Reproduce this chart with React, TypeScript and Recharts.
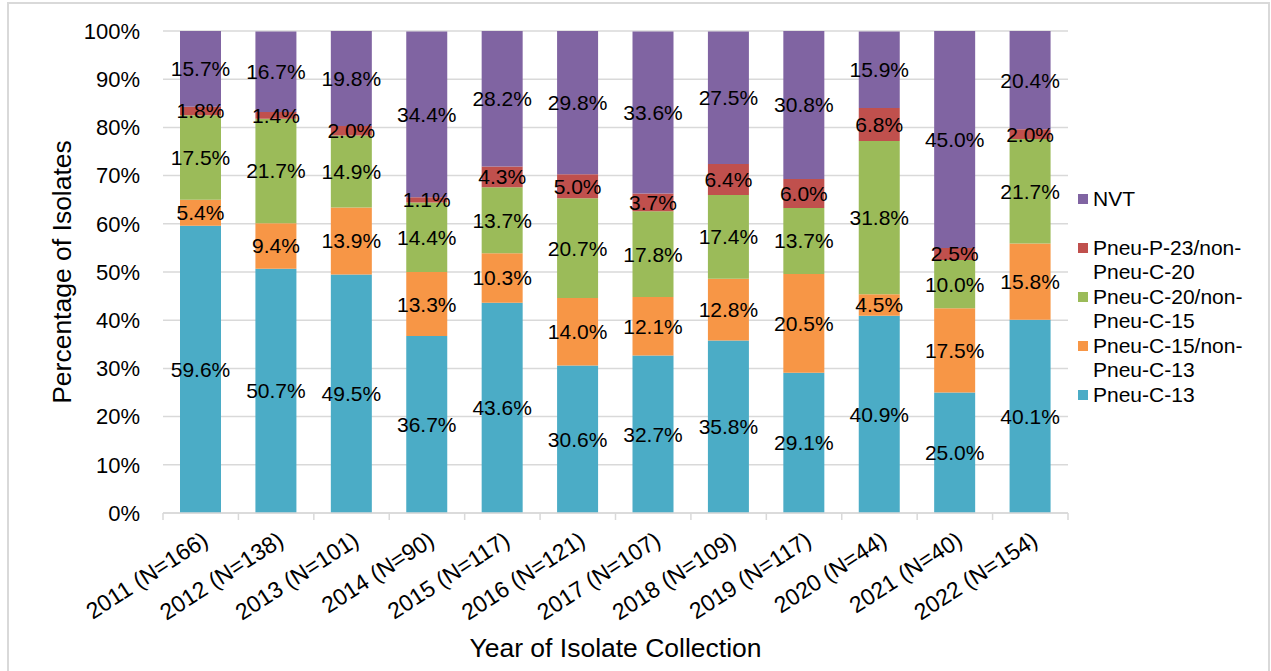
import { BarChart, Bar, XAxis, YAxis, CartesianGrid, LabelList, Legend, Label } from 'recharts'

const YEARS = [
  '2011 (N=166)',
  '2012 (N=138)',
  '2013 (N=101)',
  '2014 (N=90)',
  '2015 (N=117)',
  '2016 (N=121)',
  '2017 (N=107)',
  '2018 (N=109)',
  '2019 (N=117)',
  '2020 (N=44)',
  '2021 (N=40)',
  '2022 (N=154)',
]

// stacked bottom -> top
const PCV13 = [59.6, 50.7, 49.5, 36.7, 43.6, 30.6, 32.7, 35.8, 29.1, 40.9, 25.0, 40.1]
const PCV15 = [5.4, 9.4, 13.9, 13.3, 10.3, 14.0, 12.1, 12.8, 20.5, 4.5, 17.5, 15.8]
const PCV20 = [17.5, 21.7, 14.9, 14.4, 13.7, 20.7, 17.8, 17.4, 13.7, 31.8, 10.0, 21.7]
const PPV23 = [1.8, 1.4, 2.0, 1.1, 4.3, 5.0, 3.7, 6.4, 6.0, 6.8, 2.5, 2.0]
const NVT = [15.7, 16.7, 19.8, 34.4, 28.2, 29.8, 33.6, 27.5, 30.8, 15.9, 45.0, 20.4]

const Y_TICKS = [0, 10, 20, 30, 40, 50, 60, 70, 80, 90, 100]

const SERIES = [
  { key: 'pcv13', name: 'Pneu-C-13', color: '#4BACC6' },
  { key: 'pcv15', name: 'Pneu-C-15/non-Pneu-C-13', color: '#F79646' },
  { key: 'pcv20', name: 'Pneu-C-20/non-Pneu-C-15', color: '#9BBB59' },
  { key: 'ppv23', name: 'Pneu-P-23/non-Pneu-C-20', color: '#C0504D' },
  { key: 'nvt', name: 'NVT', color: '#8064A2' },
]

const data = YEARS.map((year, i) => ({
  year,
  pcv13: PCV13[i],
  pcv15: PCV15[i],
  pcv20: PCV20[i],
  ppv23: PPV23[i],
  nvt: NVT[i],
}))

const FONT = '"Liberation Sans", Arial, sans-serif'
const GRID = '#d9d9d9'

function YearTick(props: any) {
  const { x, y, payload, index, visibleTicksCount } = props
  const half = payload?.offset ?? 904 / 24
  const tx = x + 9
  const ty = y + 31
  return (
    <g>
      <line x1={x - half} x2={x - half} y1={y} y2={y + 7} stroke={GRID} strokeWidth={1.5} />
      {index === visibleTicksCount - 1 && (
        <line x1={x + half} x2={x + half} y1={y} y2={y + 7} stroke={GRID} strokeWidth={1.5} />
      )}
      <text x={tx} y={ty} textAnchor="end" fontSize={23} fill="#000" transform={`rotate(-33, ${tx}, ${ty})`}>
        {payload.value}
      </text>
    </g>
  )
}

function LegendBox() {
  const items = [...SERIES].reverse()
  return (
    <div style={{ fontFamily: FONT, fontSize: 21, color: '#000' }}>
      {items.map((s) => {
        const parts = s.name.split('/non-')
        const lines = parts.length > 1 ? [parts[0] + '/non-', parts[1]] : [s.name]
        return (
          <div key={s.key} style={{ position: 'relative', height: 49, lineHeight: '24px' }}>
            <div style={{ position: 'absolute', left: 0, top: 7, width: 10, height: 10, background: s.color }} />
            <div style={{ marginLeft: 15, whiteSpace: 'nowrap' }}>
              {lines.map((l) => (
                <div key={l}>{l}</div>
              ))}
            </div>
          </div>
        )
      })}
    </div>
  )
}

export default function App() {
  return (
    <div
      style={{
        position: 'absolute',
        left: 0,
        top: 0,
        width: 1271,
        height: 671,
        overflow: 'hidden',
        background: '#fff',
        fontFamily: FONT,
      }}
    >
      <div
        style={{
          position: 'absolute',
          left: 7,
          top: 2,
          width: 1263,
          height: 700,
          border: `2px solid ${GRID}`,
          boxSizing: 'border-box',
        }}
      />
      <BarChart
        width={1271}
        height={671}
        data={data}
        margin={{ top: 31, right: 203, left: 83, bottom: 0 }}
        barSize={41}
        style={{ position: 'absolute', left: 0, top: 0 }}
      >
        <CartesianGrid vertical={false} stroke={GRID} strokeWidth={1.5} />
        <XAxis
          dataKey="year"
          interval={0}
          height={158}
          tickSize={0}
          tickMargin={0}
          tickLine={false}
          axisLine={{ stroke: GRID, strokeWidth: 1.5 }}
          tick={<YearTick />}
        >
          <Label
            content={({ viewBox }: any) => (
              <text
                x={viewBox.x + viewBox.width / 2}
                y={viewBox.y + 144}
                textAnchor="middle"
                fontSize={26.5}
                fill="#000"
              >
                Year of Isolate Collection
              </text>
            )}
          />
        </XAxis>
        <YAxis
          domain={[0, 100]}
          ticks={Y_TICKS}
          allowDataOverflow
          width={80}
          tickSize={0}
          tickMargin={23}
          tickLine={false}
          axisLine={false}
          tick={{ fontSize: 22, fill: '#000' }}
          tickFormatter={(v) => `${v}%`}
        >
          <Label
            content={({ viewBox }: any) => {
              const cx = 62
              const cy = viewBox.y + viewBox.height / 2
              return (
                <text
                  x={cx}
                  y={cy}
                  textAnchor="middle"
                  dominantBaseline="central"
                  fontSize={26.5}
                  fill="#000"
                  transform={`rotate(-90, ${cx}, ${cy})`}
                >
                  Percentage of Isolates
                </text>
              )
            }}
          />
        </YAxis>
        <Legend
          layout="vertical"
          align="center"
          verticalAlign="middle"
          wrapperStyle={{ left: 1078, top: 187, width: 190 }}
          content={() => <LegendBox />}
        />
        {SERIES.map((s) => (
          <Bar key={s.key} dataKey={s.key} name={s.name} stackId="a" fill={s.color} isAnimationActive={false}>
            <LabelList
              dataKey={s.key}
              position="center"
              fill="#000"
              fontSize={21}
              formatter={(v: any) => `${Number(v).toFixed(1)}%`}
            />
          </Bar>
        ))}
      </BarChart>
    </div>
  )
}
